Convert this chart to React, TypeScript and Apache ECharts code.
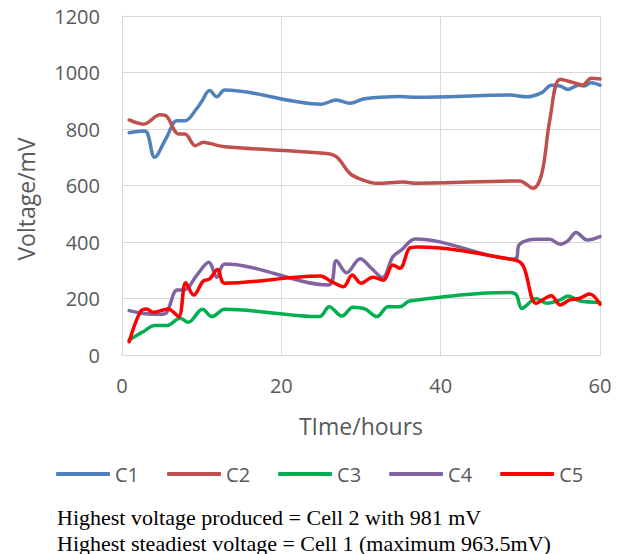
import React, { useEffect, useRef } from "react";
import * as echarts from "echarts";

const seriesNames = ["C1", "C2", "C3", "C4", "C5"];
const seriesColors = ["#4F81BD", "#C0504D", "#00B050", "#8064A2", "#FF0000"];

const c1: [number, number][] = [
  [0.9, 787], [2.7, 793], [3.2, 785], [4.1, 700], [5.5, 765], [6.9, 829], [7.9, 829],
  [9.4, 873], [10, 897], [11, 936], [11.9, 914], [12.9, 938], [25, 888], [26.9, 903],
  [28.6, 891], [30.3, 906], [32.4, 912], [34.9, 915], [37, 912], [48.7, 920], [50.8, 914],
  [52.7, 929], [53.9, 955], [55, 952], [56, 940], [57.3, 955], [58, 952], [58.9, 964], [60, 955],
];
const c2: [number, number][] = [
  [0.9, 832], [2.7, 817], [4.8, 850], [5.6, 845], [7.1, 782], [7.9, 782], [9.2, 741],
  [10.2, 753], [11, 749], [12.9, 737], [25.3, 714], [26.9, 702], [28.6, 643], [30, 622],
  [32, 608], [35.3, 612], [37, 608], [49.9, 616], [51.6, 590], [52.7, 643], [53.7, 832],
  [55, 976], [56.6, 965], [57.8, 956], [58.9, 980], [60, 977],
];
const c3: [number, number][] = [
  [0.9, 53], [2.7, 83], [4.1, 104], [5.6, 104], [7.3, 130], [8.3, 116], [10.1, 162],
  [11.3, 136], [12.9, 162], [24.8, 136], [26, 171], [27.6, 138], [29, 169], [30.5, 163],
  [32, 136], [33.4, 171], [34.9, 171], [36.1, 191], [48.7, 221], [49.5, 213], [50.2, 165],
  [52, 200], [53.3, 183], [55, 195], [56, 209], [57.4, 192], [60, 186],
];
const c4: [number, number][] = [
  [0.9, 157], [2.7, 147], [4.8, 144], [5.6, 150], [6.9, 230], [7.9, 231], [9.4, 283],
  [10.9, 328], [11.9, 275], [12.9, 322], [25.9, 248], [26.9, 334], [28.2, 291], [29.9, 341],
  [31.3, 307], [32.7, 274], [34, 348], [35.1, 372], [36.8, 411], [49.3, 340], [49.9, 392],
  [52, 410], [53.7, 410], [55, 392], [56, 405], [57, 434], [58.4, 407], [60, 419],
];
const c5: [number, number][] = [
  [0.9, 47], [2.3, 153], [3.1, 163], [3.9, 151], [5.8, 163], [7.1, 136], [8, 256],
  [9, 212], [10.2, 262], [11, 269], [12, 303], [12.9, 254], [24.9, 280], [26.3, 260],
  [27.8, 242], [28.9, 283], [30, 254], [31.5, 275], [32.8, 265], [34, 319], [34.9, 307],
  [36.1, 378], [37, 382], [49.3, 336], [50.4, 313], [52, 183], [53.9, 210], [55, 177],
  [56.2, 195], [57.4, 200], [58.7, 216], [60, 180],
];
const allData = [c1, c2, c3, c4, c5];

const xTitle = "TIme/hours";
const yTitle = "Voltage/mV";
const noteLines = [
  "Highest voltage produced = Cell 2 with 981 mV",
  "Highest steadiest voltage = Cell 1 (maximum 963.5mV)",
];

export default function App() {
  const ref = useRef<HTMLDivElement>(null);
  useEffect(() => {
    if (!ref.current) return;
    const chart = echarts.init(ref.current, undefined, { renderer: "svg" });
    const font = "'Open Sans', sans-serif";
    chart.setOption({
      animation: false,
      backgroundColor: "#fff",
      grid: { left: 122, right: 26, top: 16, bottom: 199 },
      xAxis: {
        type: "value",
        min: 0,
        max: 60,
        interval: 20,
        axisLine: { show: true, lineStyle: { color: "#D9D9D9", width: 1 } },
        axisTick: { show: false },
        splitLine: { show: true, lineStyle: { color: "#D9D9D9", width: 1 } },
        axisLabel: {
          color: "#595959",
          fontFamily: font,
          fontSize: 20,
          margin: 20,
          formatter: (v: number) => String(v),
        },
      },
      yAxis: {
        type: "value",
        min: 0,
        max: 1200,
        interval: 200,
        axisLine: { show: true, lineStyle: { color: "#D9D9D9", width: 1 } },
        axisTick: { show: false },
        splitLine: { show: true, lineStyle: { color: "#D9D9D9", width: 1 } },
        axisLabel: {
          color: "#595959",
          fontFamily: font,
          fontSize: 20,
          margin: 22,
          formatter: (v: number) => String(v),
        },
      },
      legend: {
        left: 51,
        top: 459,
        itemWidth: 54,
        itemHeight: 4,
        itemGap: 28,
        icon: "roundRect",
        textStyle: { color: "#595959", fontFamily: font, fontSize: 20 },
        data: seriesNames,
      },
      graphic: [
        {
          type: "text",
          x: 26,
          y: 199,
          rotation: Math.PI / 2,
          style: {
            text: yTitle,
            fill: "#595959",
            font: `23px ${font}`,
            align: "center",
            verticalAlign: "middle",
          },
        },
        {
          type: "text",
          x: 361,
          y: 426,
          style: {
            text: xTitle,
            fill: "#595959",
            font: `23px ${font}`,
            align: "center",
            verticalAlign: "middle",
          },
        },
        ...noteLines.map((t, i) => ({
          type: "text",
          x: 57,
          y: 517 + i * 26,
          style: {
            text: t,
            fill: "#000",
            font: "22px 'Liberation Serif', serif",
            align: "left",
            verticalAlign: "middle",
          },
        })),
      ],
      series: seriesNames.map((name, i) => ({
        name,
        type: "line",
        data: allData[i],
        smooth: 0.35,
        showSymbol: false,
        symbol: "none",
        color: seriesColors[i],
        lineStyle: { color: seriesColors[i], width: 3.5, cap: "round", join: "round" },
      })),
    });
    return () => chart.dispose();
  }, []);
  return (
    <div
      ref={ref}
      style={{ position: "fixed", left: 0, top: 0, width: 626, height: 554 }}
    />
  );
}
